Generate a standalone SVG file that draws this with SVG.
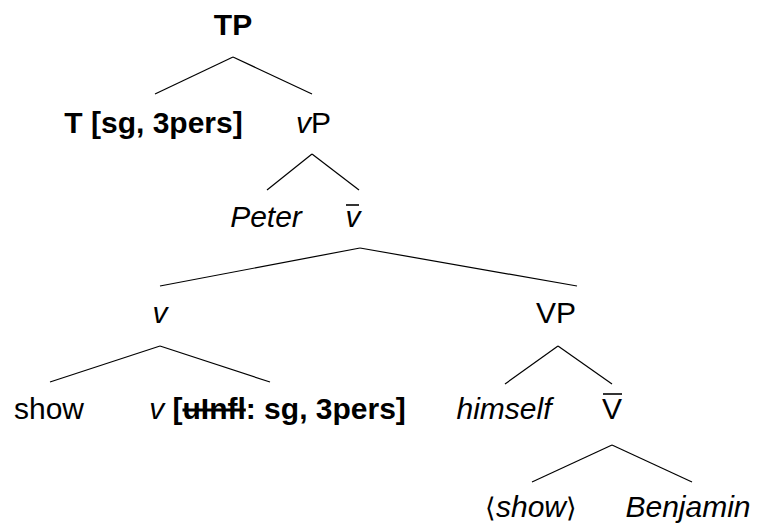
<svg xmlns="http://www.w3.org/2000/svg" width="761" height="525" viewBox="0 0 761 525">
<style>
text{font-family:"Liberation Sans","DejaVu Sans",sans-serif;font-size:30px;fill:#000;text-anchor:middle}
.b{font-weight:bold}
.i{font-style:italic}
.br{font-family:"DejaVu Sans",sans-serif;font-style:normal;font-weight:200;font-size:27px}
line{stroke:#000;stroke-width:1.2}
.bar{stroke-width:1.6}
</style>
<rect width="761" height="525" fill="#fff"/>
<g id="connectors">
<line x1="233" y1="57" x2="155" y2="94"/>
<line x1="233" y1="57" x2="312" y2="94"/>
<line x1="312" y1="154" x2="267" y2="190"/>
<line x1="312" y1="154" x2="359" y2="190"/>
<line x1="360" y1="248" x2="160" y2="286"/>
<line x1="360" y1="248" x2="577" y2="286"/>
<line x1="160" y1="346" x2="50" y2="382"/>
<line x1="160" y1="346" x2="270" y2="382"/>
<line x1="558" y1="346" x2="505" y2="384"/>
<line x1="558" y1="346" x2="612" y2="384"/>
<line x1="612" y1="445" x2="532" y2="482"/>
<line x1="612" y1="445" x2="692" y2="482"/>
</g>
<g id="TP"><text class="b" x="233" y="35">TP</text></g>
<g id="T"><text class="b" x="153.5" y="133">T [sg, 3pers]</text></g>
<g id="vP"><text x="313.5" y="133"><tspan class="i">v</tspan>P</text></g>
<g id="Peter"><text class="i" x="266" y="227">Peter</text></g>
<g id="vbar"><text class="i" x="353" y="227">v</text><line class="bar" x1="346" y1="205" x2="359" y2="205"/></g>
<g id="v"><text class="i" x="160" y="323">v</text></g>
<g id="VP"><text x="556" y="323">VP</text></g>
<g id="show"><text x="49" y="419">show</text></g>
<g id="vfeat"><text x="277.5" y="419"><tspan class="i">v</tspan> <tspan class="b">[<tspan text-decoration="line-through">uInfl</tspan>: sg, 3pers]</tspan></text></g>
<g id="himself"><text class="i" x="504" y="419">himself</text></g>
<g id="Vbar"><text x="612" y="419">V</text><line class="bar" x1="603" y1="394" x2="622" y2="394"/></g>
<g id="showtrace"><text x="531" y="517"><tspan class="br">⟨</tspan><tspan class="i">show</tspan><tspan class="br">⟩</tspan></text></g>
<g id="Benjamin"><text class="i" x="688" y="517">Benjamin</text></g>
</svg>
